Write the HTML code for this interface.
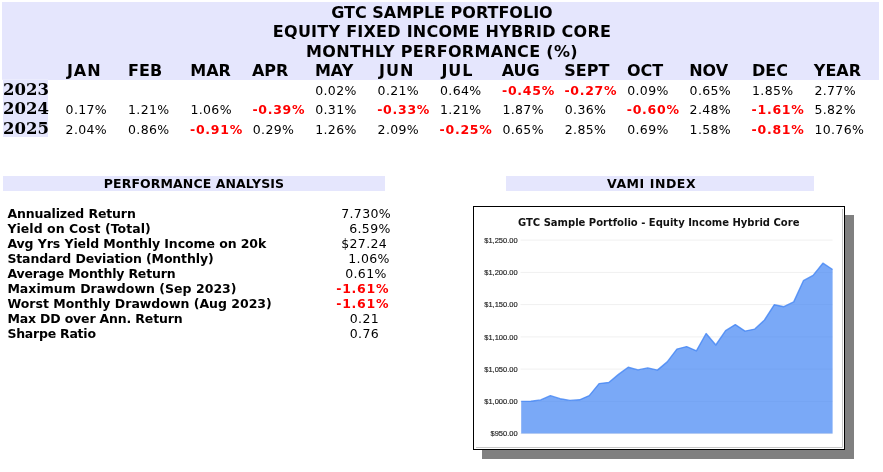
<!DOCTYPE html>
<html><head><meta charset="utf-8"><title>GTC Sample Portfolio</title>
<style>
html,body{margin:0;padding:0;background:#fff;}
body{width:883px;height:472px;position:relative;overflow:hidden;font-family:"DejaVu Sans","Liberation Sans",sans-serif;color:#000;}
.a{position:absolute;white-space:nowrap;line-height:1;}
.bg{position:absolute;background:#e5e6fd;}
.t{font-weight:bold;font-size:16px;text-align:center;left:2px;width:880px;}
.m{font-weight:bold;font-size:16px;}
.y{font-family:"DejaVu Serif","Liberation Serif",serif;font-weight:bold;font-size:16.2px;transform:scaleX(1.02);transform-origin:0 0;}
.d{font-size:12.5px;letter-spacing:0.36px;}
.r{font-size:12.5px;font-weight:bold;color:#ff0000;letter-spacing:0.72px;}
.l{font-size:12.5px;font-weight:bold;}
svg text{font-family:"Liberation Sans",sans-serif;}
</style></head><body>

<div class="bg" style="left:2px;top:2px;width:877px;height:78px"></div>
<div class="bg" style="left:2px;top:79px;width:46px;height:1px;background:#ebecfd"></div>
<div class="bg" style="left:3px;top:80px;width:45px;height:57px"></div>
<div class="bg" style="left:3px;top:176px;width:382px;height:15px"></div>
<div class="bg" style="left:506px;top:176px;width:308px;height:15px"></div>
<div class="a t" style="left:2.0px;top:5px;">GTC SAMPLE PORTFOLIO</div>
<div class="a t" style="left:2.0px;top:24px;letter-spacing:0.25px;">EQUITY FIXED INCOME HYBRID CORE</div>
<div class="a t" style="left:2.0px;top:44px;letter-spacing:0.32px;">MONTHLY PERFORMANCE (%)</div>
<div class="a m" style="left:66.9px;top:63px;letter-spacing:1px;">JAN</div>
<div class="a m" style="left:128.1px;top:63px;">FEB</div>
<div class="a m" style="left:190.3px;top:63px;">MAR</div>
<div class="a m" style="left:251.9px;top:63px;">APR</div>
<div class="a m" style="left:314.9px;top:63px;">MAY</div>
<div class="a m" style="left:379.1px;top:63px;letter-spacing:1px;">JUN</div>
<div class="a m" style="left:441.4px;top:63px;letter-spacing:1px;">JUL</div>
<div class="a m" style="left:501.7px;top:63px;">AUG</div>
<div class="a m" style="left:564.3px;top:63px;">SEPT</div>
<div class="a m" style="left:627.0px;top:63px;">OCT</div>
<div class="a m" style="left:689.2px;top:63px;">NOV</div>
<div class="a m" style="left:752.0px;top:63px;">DEC</div>
<div class="a m" style="left:813.8px;top:63px;">YEAR</div>
<div class="a y" style="left:3.3px;top:82px;">2023</div>
<div class="a d" style="left:315.2px;top:85px;">0.02%</div>
<div class="a d" style="left:377.6px;top:85px;">0.21%</div>
<div class="a d" style="left:440.0px;top:85px;">0.64%</div>
<div class="a r" style="left:502.0px;top:85px;">-0.45%</div>
<div class="a r" style="left:564.4px;top:85px;">-0.27%</div>
<div class="a d" style="left:627.2px;top:85px;">0.09%</div>
<div class="a d" style="left:689.6px;top:85px;">0.65%</div>
<div class="a d" style="left:752.0px;top:85px;">1.85%</div>
<div class="a d" style="left:814.4px;top:85px;">2.77%</div>
<div class="a y" style="left:3.3px;top:101px;">2024</div>
<div class="a d" style="left:65.6px;top:104px;">0.17%</div>
<div class="a d" style="left:128.0px;top:104px;">1.21%</div>
<div class="a d" style="left:190.4px;top:104px;">1.06%</div>
<div class="a r" style="left:252.4px;top:104px;">-0.39%</div>
<div class="a d" style="left:315.2px;top:104px;">0.31%</div>
<div class="a r" style="left:377.2px;top:104px;">-0.33%</div>
<div class="a d" style="left:440.0px;top:104px;">1.21%</div>
<div class="a d" style="left:502.4px;top:104px;">1.87%</div>
<div class="a d" style="left:564.8px;top:104px;">0.36%</div>
<div class="a r" style="left:626.8px;top:104px;">-0.60%</div>
<div class="a d" style="left:689.6px;top:104px;">2.48%</div>
<div class="a r" style="left:751.6px;top:104px;">-1.61%</div>
<div class="a d" style="left:814.4px;top:104px;">5.82%</div>
<div class="a y" style="left:3.3px;top:121px;">2025</div>
<div class="a d" style="left:65.6px;top:124px;">2.04%</div>
<div class="a d" style="left:128.0px;top:124px;">0.86%</div>
<div class="a r" style="left:190.0px;top:124px;">-0.91%</div>
<div class="a d" style="left:252.8px;top:124px;">0.29%</div>
<div class="a d" style="left:315.2px;top:124px;">1.26%</div>
<div class="a d" style="left:377.6px;top:124px;">2.09%</div>
<div class="a r" style="left:439.6px;top:124px;">-0.25%</div>
<div class="a d" style="left:502.4px;top:124px;">0.65%</div>
<div class="a d" style="left:564.8px;top:124px;">2.85%</div>
<div class="a d" style="left:627.2px;top:124px;">0.69%</div>
<div class="a d" style="left:689.6px;top:124px;">1.58%</div>
<div class="a r" style="left:751.6px;top:124px;">-0.81%</div>
<div class="a d" style="left:814.4px;top:124px;">10.76%</div>
<div class="a l" style="left:103.8px;top:178px;letter-spacing:0.1px;">PERFORMANCE ANALYSIS</div>
<div class="a l" style="left:607.0px;top:178px;letter-spacing:0.55px;">VAMI INDEX</div>
<div class="a l" style="left:7.4px;top:208px;letter-spacing:-0.13px;">Annualized Return</div>
<div class="a d" style="left:341.2px;top:208px;">7.730%</div>
<div class="a l" style="left:7.4px;top:223px;letter-spacing:0.055px;">Yield on Cost (Total)</div>
<div class="a d" style="left:349.2px;top:223px;">6.59%</div>
<div class="a l" style="left:7.4px;top:238px;letter-spacing:-0.08px;">Avg Yrs Yield Monthly Income on 20k</div>
<div class="a d" style="left:341.2px;top:238px;">$27.24</div>
<div class="a l" style="left:7.4px;top:253px;letter-spacing:-0.126px;">Standard Deviation (Monthly)</div>
<div class="a d" style="left:348.3px;top:253px;">1.06%</div>
<div class="a l" style="left:7.4px;top:268px;letter-spacing:-0.176px;">Average Monthly Return</div>
<div class="a d" style="left:345.2px;top:268px;">0.61%</div>
<div class="a l" style="left:7.4px;top:283px;letter-spacing:0.03px;">Maximum Drawdown (Sep 2023)</div>
<div class="a r" style="left:336.3px;top:283px;">-1.61%</div>
<div class="a l" style="left:7.4px;top:298px;letter-spacing:0px;">Worst Monthly Drawdown (Aug 2023)</div>
<div class="a r" style="left:336.3px;top:298px;">-1.61%</div>
<div class="a l" style="left:7.4px;top:313px;letter-spacing:-0.16px;">Max DD over Ann. Return</div>
<div class="a d" style="left:349.8px;top:313px;">0.21</div>
<div class="a l" style="left:7.4px;top:328px;letter-spacing:-0.236px;">Sharpe Ratio</div>
<div class="a d" style="left:349.8px;top:328px;">0.76</div>
<svg class="a" style="left:0;top:0" width="883" height="472" viewBox="0 0 883 472">
<rect x="482" y="215" width="372" height="244" fill="#808080"/>
<rect x="473.5" y="206.5" width="371" height="243" fill="#fff" stroke="#000" stroke-width="1"/>
<path d="M842.5 209V447.5H476" fill="none" stroke="#c8c8c8" stroke-width="1"/>
<line x1="520.5" x2="832.6" y1="240.1" y2="240.1" stroke="#f0f0f0" stroke-width="1"/>
<line x1="520.5" x2="832.6" y1="272.4" y2="272.4" stroke="#f0f0f0" stroke-width="1"/>
<line x1="520.5" x2="832.6" y1="304.6" y2="304.6" stroke="#f0f0f0" stroke-width="1"/>
<line x1="520.5" x2="832.6" y1="336.9" y2="336.9" stroke="#f0f0f0" stroke-width="1"/>
<line x1="520.5" x2="832.6" y1="369.1" y2="369.1" stroke="#f0f0f0" stroke-width="1"/>
<line x1="520.5" x2="832.6" y1="401.4" y2="401.4" stroke="#f0f0f0" stroke-width="1"/>
<line x1="520.5" x2="832.6" y1="433.6" y2="433.6" stroke="#f0f0f0" stroke-width="1"/>
<text x="517.6" y="242.9" font-size="7.5" text-anchor="end" fill="#222" stroke="#222" stroke-width="0.15">$1,250.00</text>
<text x="517.6" y="275.2" font-size="7.5" text-anchor="end" fill="#222" stroke="#222" stroke-width="0.15">$1,200.00</text>
<text x="517.6" y="307.4" font-size="7.5" text-anchor="end" fill="#222" stroke="#222" stroke-width="0.15">$1,150.00</text>
<text x="517.6" y="339.7" font-size="7.5" text-anchor="end" fill="#222" stroke="#222" stroke-width="0.15">$1,100.00</text>
<text x="517.6" y="371.9" font-size="7.5" text-anchor="end" fill="#222" stroke="#222" stroke-width="0.15">$1,050.00</text>
<text x="517.6" y="404.2" font-size="7.5" text-anchor="end" fill="#222" stroke="#222" stroke-width="0.15">$1,000.00</text>
<text x="517.6" y="436.4" font-size="7.5" text-anchor="end" fill="#222" stroke="#222" stroke-width="0.15">$950.00</text>
<polygon points="521.2,433.6 521.2,401.4 530.9,401.2 540.7,399.9 550.4,395.7 560.1,398.7 569.9,400.4 579.6,399.8 589.3,395.6 599.1,383.6 608.8,382.5 618.5,374.4 628.2,367.3 638.0,369.9 647.7,367.9 657.4,370.1 667.2,361.9 676.9,349.1 686.6,346.6 696.4,350.8 706.1,333.5 715.8,345.0 725.6,330.7 735.3,324.6 745.0,331.1 754.8,329.1 764.5,320.0 774.2,304.8 783.9,306.7 793.7,301.9 803.4,280.7 813.1,275.4 822.9,263.2 832.6,269.5 832.6,433.6" fill="#4285f4" fill-opacity="0.7"/>
<polyline points="521.2,401.4 530.9,401.2 540.7,399.9 550.4,395.7 560.1,398.7 569.9,400.4 579.6,399.8 589.3,395.6 599.1,383.6 608.8,382.5 618.5,374.4 628.2,367.3 638.0,369.9 647.7,367.9 657.4,370.1 667.2,361.9 676.9,349.1 686.6,346.6 696.4,350.8 706.1,333.5 715.8,345.0 725.6,330.7 735.3,324.6 745.0,331.1 754.8,329.1 764.5,320.0 774.2,304.8 783.9,306.7 793.7,301.9 803.4,280.7 813.1,275.4 822.9,263.2 832.6,269.5" fill="none" stroke="#4285f4" stroke-opacity="0.8" stroke-width="1.4" stroke-linejoin="round"/>
<text x="658.7" y="225.8" font-size="10" font-weight="bold" text-anchor="middle" fill="#111" style="font-family:'DejaVu Sans','Liberation Sans',sans-serif">GTC Sample Portfolio - Equity Income Hybrid Core</text>
</svg>
</body></html>
